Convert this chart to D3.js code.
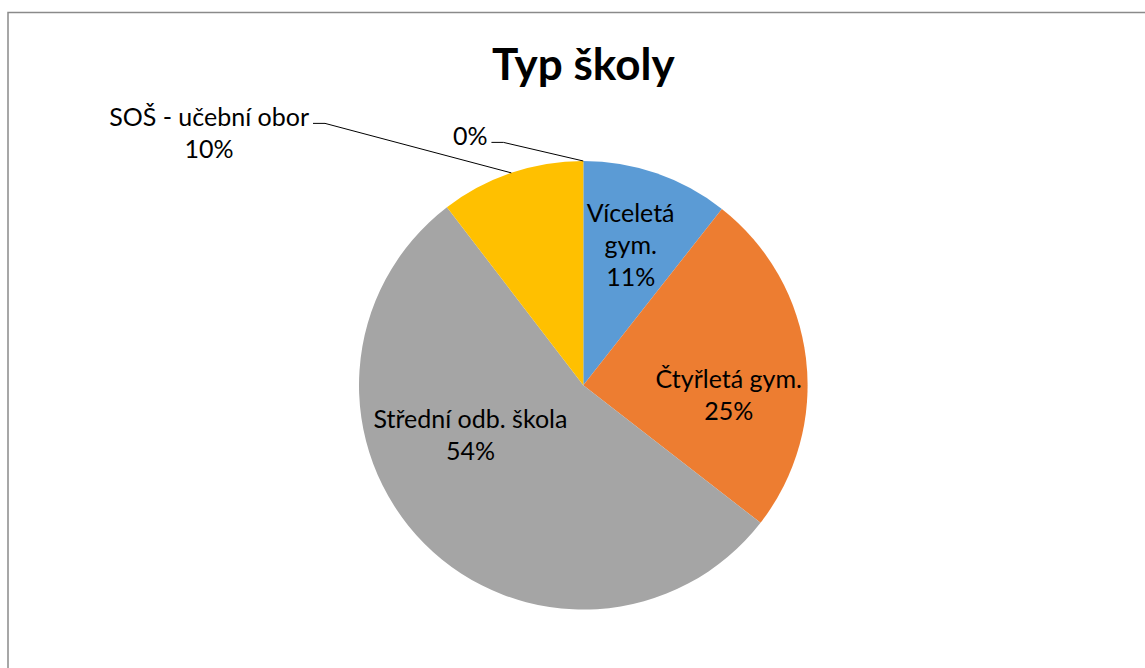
<!DOCTYPE html>
<html>
<head>
<meta charset="utf-8">
<script src="https://cdn.jsdelivr.net/npm/d3@7"></script>
<style>
  body { margin: 0; background: #fff; }
  text { font-family: Lato, "Noto Sans", sans-serif; fill: #000; }
</style>
</head>
<body>
<script>
// data (share of respondents, %)
const categories = ["Víceletá gym.", "Čtyřletá gym.", "Střední odb. škola", "SOŠ - učební obor", ""];
const labelLines = [["Víceletá", "gym."], ["Čtyřletá gym."], ["Střední odb. škola"], ["SOŠ - učební obor"], []];
const values = [10.6, 24.9, 54.1, 10.4, 0];
const colors = ["#5B9BD5", "#ED7D31", "#A5A5A5", "#FFC000", "#4472C4"];

const width = 1145, height = 668;
const cx = 583.3, cy = 385.3, radius = 224.3;

// label placement, the way Excel "best fit" put them
const placement = [
  { inside: true, r: 0.66, shift: -0.4 },
  { inside: true, r: 0.65, shift: 11 },
  { inside: true, r: 0.55, shift: 21 },
  { inside: false, r: 1.64, angle: 315.4 },
  { inside: false, r: 1.14, angle: 341.8 }
];

const svg = d3.select("body").append("svg")
  .attr("width", width)
  .attr("height", height);

svg.append("rect")
  .attr("x", 8).attr("y", 12.5)
  .attr("width", width + 10).attr("height", height)
  .attr("fill", "none")
  .attr("stroke", "#8a8a8a")
  .attr("stroke-width", 1.5);

svg.append("text")
  .attr("x", cx).attr("y", 80)
  .attr("text-anchor", "middle")
  .style("font-size", "44px")
  .style("font-weight", "bold")
  .text("Typ školy");

const total = d3.sum(values);
const pie = d3.pie().sort(null).value(d => d);
const arcs = pie(values);
const arc = d3.arc().innerRadius(0).outerRadius(radius);

const g = svg.append("g").attr("transform", `translate(${cx},${cy})`);

g.selectAll(".slice")
  .data(arcs)
  .enter()
  .append("path")
  .attr("class", "slice")
  .attr("d", arc)
  .attr("fill", (d, i) => colors[i]);

const fontSize = 25, lineH = 32;
const toRad = a => a * Math.PI / 180;
const polar = (a, r) => [r * Math.sin(toRad(a)), -r * Math.cos(toRad(a))];

arcs.forEach((d, i) => {
  const p = placement[i];
  const pct = Math.round(values[i] / total * 100) + "%";
  const lines = labelLines[i].concat([pct]);
  const mid = (d.startAngle + d.endAngle) / 2 * 180 / Math.PI;
  let pos;

  if (p.inside) {
    pos = polar(mid + p.shift, p.r * radius);
  } else {
    const start = polar(mid, radius);
    const elbow = polar(p.angle, p.r * radius);
    const end = [elbow[0] - 12, elbow[1]];
    g.append("path")
      .attr("d", d3.line()([start, elbow, end]))
      .attr("fill", "none")
      .attr("stroke", "#000")
      .attr("stroke-width", 1);
    // the text block sits left of the leader, centred on its own width
    const tmp = g.append("text").style("font-size", fontSize + "px").text(lines[0]);
    const w = tmp.node().getComputedTextLength();
    tmp.remove();
    pos = [end[0] - 4 - w / 2, end[1] + (lines.length - 1) * lineH / 2 - 6];
  }

  const t = g.append("text")
    .attr("text-anchor", "middle")
    .style("font-size", fontSize + "px");
  const y0 = pos[1] - (lines.length - 1) * lineH / 2 + fontSize * 0.36;
  lines.forEach((s, k) => {
    t.append("tspan").attr("x", pos[0]).attr("y", y0 + k * lineH).text(s);
  });
});
</script>
</body>
</html>
